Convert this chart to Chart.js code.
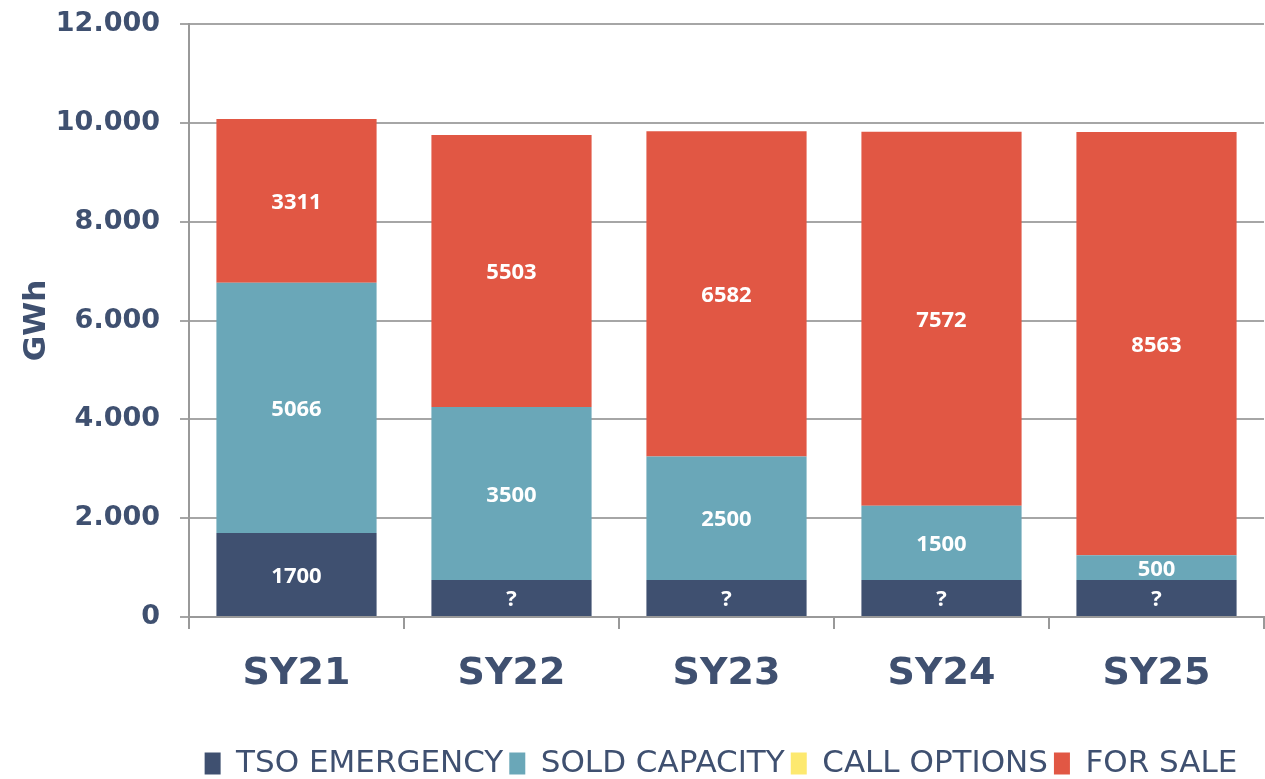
<!DOCTYPE html>
<html>
<head>
<meta charset="utf-8">
<script src="https://cdn.jsdelivr.net/npm/chart.js@4"></script>
<style>
  html, body { margin: 0; padding: 0; background: #fff; overflow: hidden; }
  #wrap { width: 1265px; height: 779px; }
</style>
</head>
<body>
<div id="wrap"><canvas id="plot"></canvas></div>
<script>
var years = ["SY21", "SY22", "SY23", "SY24", "SY25"];
var tso = [1700, 750, 750, 750, 750];
var sold = [5066, 3500, 2500, 1500, 500];
var callOptions = [0, 0, 0, 0, 0];
var forSale = [3311, 5503, 6582, 7572, 8563];
var tsoLabels = ["1700", "?", "?", "?", "?"];
var yTicks = [0, 2000, 4000, 6000, 8000, 10000, 12000];

var navy = "#3f5070";

// white values in the middle of each segment
var barText = {
	id: "barText",
	afterDatasetsDraw: function (chart) {
		var ctx = chart.ctx;
		ctx.save();
		ctx.fillStyle = "#fff";
		ctx.font = "bold 22px 'Open Sans'";
		ctx.textAlign = "center";
		ctx.textBaseline = "middle";
		chart.data.datasets.forEach(function (ds, i) {
			var meta = chart.getDatasetMeta(i);
			meta.data.forEach(function (bar, j) {
				if (!ds.data[j]) return;
				var txt = ds.texts ? ds.texts[j] : String(ds.data[j]);
				ctx.fillText(txt, bar.x, (bar.y + bar.base) / 2 + 2);
			});
		});
		ctx.restore();
	}
};

// legend sits under the plot area, a bit lower and to the right
var legendShift = {
	id: "legendShift",
	afterLayout: function (chart) {
		var lg = chart.legend;
		lg.left += 89; lg.right += 89;
		lg.top += 10; lg.bottom += 10;
	}
};

var ctx = document.getElementById("plot").getContext("2d");
var chart = new Chart(ctx, {
	type: "bar",
	data: {
		labels: years,
		datasets: [
			{ label: "TSO EMERGENCY", data: tso, texts: tsoLabels, backgroundColor: "#3f5070" },
			{ label: "SOLD CAPACITY", data: sold, backgroundColor: "#6aa7b8" },
			{ label: "CALL OPTIONS", data: callOptions, backgroundColor: "#fde96f" },
			{ label: "FOR SALE", data: forSale, backgroundColor: "#e15744" }
		]
	},
	options: {
		animation: false,
		responsive: true,
		maintainAspectRatio: false,
		layout: { padding: { top: 24, right: 1, left: 0, bottom: 0 } },
		datasets: { bar: { barPercentage: 0.745, categoryPercentage: 1 } },
		plugins: {
			tooltip: { enabled: false },
			legend: {
				position: "bottom",
				labels: {
					color: navy,
					font: { family: "'DejaVu Sans'", size: 31 },
					boxWidth: 16,
					boxHeight: 22,
					padding: 6
				}
			}
		},
		scales: {
			x: {
				stacked: true,
				offset: true,
				border: { color: "#999", width: 2 },
				grid: { offset: true, drawOnChartArea: false, color: "#999", lineWidth: 2, tickLength: 12 },
				ticks: { color: navy, font: { family: "'DejaVu Sans'", weight: "bold", size: 38 }, padding: 22 },
				afterFit: function (s) { s.height = 115; }
			},
			y: {
				stacked: true,
				min: 0,
				max: 12000,
				afterBuildTicks: function (s) { s.ticks = yTicks.map(function (v) { return { value: v }; }); },
				border: { color: "#999", width: 2 },
				grid: { color: "#a6a6a6", lineWidth: 2, tickLength: 9 },
				ticks: {
					color: navy,
					font: { family: "'DejaVu Sans'", weight: "bold", size: 27 },
					padding: 20,
					callback: function (v) { return v === 0 ? "0" : (v / 1000).toFixed(3); }
				},
				title: {
					display: true,
					text: "GWh",
					color: navy,
					font: { family: "'DejaVu Sans'", weight: "bold", size: 31 },
					padding: { top: 18, bottom: 0 }
				},
				afterFit: function (s) { s.width = 189; s.paddingTop = 0; s.paddingBottom = 0; }
			}
		}
	},
	plugins: [barText, legendShift]
});
</script>
</body>
</html>
